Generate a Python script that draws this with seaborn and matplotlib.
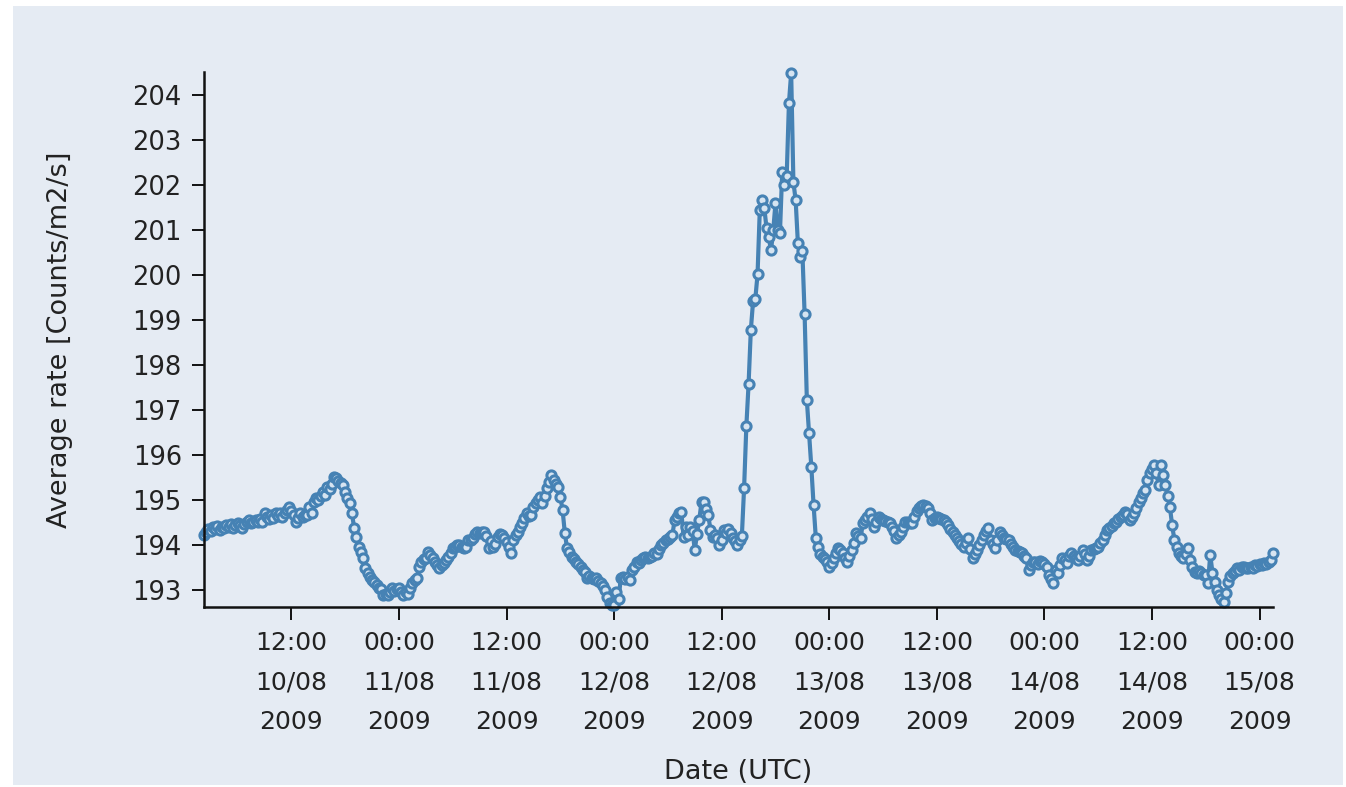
import matplotlib
matplotlib.use("Agg")
import matplotlib.pyplot as plt
from matplotlib.patches import Rectangle
import numpy as np
import pandas as pd
import seaborn as sns

# 15-minute average count rates, split by UTC day (first sample 10/08/2009 02:15)
rate_10aug = [
    194.22, 194.28, 194.35,
    194.32, 194.40, 194.36, 194.42,
    194.34, 194.40, 194.38, 194.44,
    194.40, 194.46, 194.38, 194.45,
    194.49, 194.44, 194.38, 194.46,
    194.50, 194.56, 194.48, 194.52,
    194.55, 194.50, 194.58, 194.50,
    194.71, 194.62, 194.58, 194.66,
    194.60, 194.70, 194.64, 194.70,
    194.62, 194.72, 194.78, 194.84,
    194.76, 194.66, 194.51, 194.60,
    194.70, 194.62, 194.66, 194.67,
    194.84, 194.72, 194.96, 195.04,
    195.00, 195.10, 195.18, 195.12,
    195.29, 195.24, 195.36, 195.51,
    195.49, 195.42, 195.38, 195.33,
    195.18, 195.05, 194.93, 194.71,
    194.38, 194.18, 193.96, 193.84,
    193.71, 193.49, 193.38, 193.29,
    193.22, 193.18, 193.10, 193.04,
    193.02, 192.89, 192.92, 192.89,
    192.95, 193.04, 192.98, 193.02,
]
rate_11aug = [
    193.04, 192.96, 192.89, 192.96,
    192.90, 193.04, 193.16, 193.22,
    193.27, 193.51, 193.62, 193.68,
    193.72, 193.84, 193.78, 193.70,
    193.62, 193.56, 193.49, 193.55,
    193.60, 193.66, 193.74, 193.82,
    193.93, 193.96, 194.00, 194.00,
    193.96, 193.93, 193.95, 194.11,
    194.11, 194.16, 194.24, 194.29,
    194.26, 194.29, 194.29, 194.20,
    193.93, 194.08, 193.96, 194.02,
    194.18, 194.24, 194.22, 194.16,
    194.07, 193.96, 193.82, 194.10,
    194.22, 194.29, 194.40, 194.49,
    194.60, 194.71, 194.64, 194.67,
    194.85, 194.93, 195.00, 195.07,
    194.93, 195.10, 195.27, 195.40,
    195.56, 195.44, 195.36, 195.29,
    195.07, 194.78, 194.27, 193.93,
    193.85, 193.73, 193.68, 193.62,
    193.58, 193.51, 193.45, 193.40,
    193.27, 193.30, 193.27, 193.25,
    193.27, 193.20, 193.16, 193.08,
    193.00, 192.84, 192.71, 192.66,
]
rate_12aug = [
    192.67, 192.96, 192.80, 193.27,
    193.29, 193.25, 193.29, 193.22,
    193.44, 193.50, 193.62, 193.60,
    193.66, 193.70, 193.73, 193.70,
    193.73, 193.76, 193.82, 193.80,
    193.90, 194.00, 194.04, 194.11,
    194.14, 194.18, 194.22, 194.56,
    194.62, 194.71, 194.73, 194.18,
    194.40, 194.22, 194.40, 194.30,
    193.89, 194.25, 194.56, 194.96,
    194.96, 194.80, 194.67, 194.33,
    194.18, 194.22, 194.16, 194.00,
    194.12, 194.33, 194.26, 194.36,
    194.27, 194.16, 194.08, 194.00,
    194.10, 194.20, 195.27, 196.64,
    197.58, 198.78, 199.42, 199.47,
    200.02, 201.45, 201.67, 201.50,
    201.05, 200.85, 200.55, 201.00,
    201.60, 201.00, 200.95, 202.30,
    202.00, 202.20, 203.82, 204.50,
    202.07, 201.67, 200.71, 200.40,
    200.53, 199.13, 197.22, 196.49,
    195.73, 194.89, 194.16, 193.95,
    193.80, 193.73, 193.68, 193.62,
]
rate_13aug = [
    193.51, 193.60, 193.72, 193.82,
    193.93, 193.88, 193.82, 193.70,
    193.62, 193.75, 193.89, 194.05,
    194.27, 194.20, 194.16, 194.49,
    194.55, 194.62, 194.71, 194.58,
    194.40, 194.52, 194.62, 194.58,
    194.56, 194.54, 194.52, 194.49,
    194.40, 194.30, 194.16, 194.22,
    194.29, 194.40, 194.51, 194.50,
    194.48, 194.49, 194.62, 194.75,
    194.82, 194.86, 194.89, 194.86,
    194.82, 194.70, 194.56, 194.60,
    194.62, 194.60, 194.58, 194.56,
    194.50, 194.44, 194.36, 194.29,
    194.22, 194.16, 194.08, 194.02,
    193.96, 194.05, 194.16, 193.90,
    193.71, 193.80, 193.89, 194.00,
    194.11, 194.22, 194.30, 194.38,
    194.11, 194.02, 193.93, 194.10,
    194.29, 194.22, 194.16, 194.14,
    194.11, 194.02, 193.95, 193.89,
    193.86, 193.84, 193.82, 193.76,
    193.71, 193.44, 193.55, 193.62,
    193.62, 193.58, 193.64, 193.62,
]
rate_14aug = [
    193.58, 193.51, 193.33, 193.25,
    193.16, 193.44, 193.38, 193.55,
    193.71, 193.66, 193.60, 193.75,
    193.82, 193.76, 193.70, 193.67,
    193.75, 193.89, 193.80, 193.67,
    193.75, 193.89, 193.92, 193.94,
    193.96, 194.04, 194.11, 194.22,
    194.33, 194.38, 194.42, 194.49,
    194.52, 194.58, 194.62, 194.66,
    194.73, 194.68, 194.56, 194.62,
    194.70, 194.82, 194.96, 195.05,
    195.15, 195.22, 195.44, 195.60,
    195.70, 195.78, 195.60, 195.33,
    195.78, 195.56, 195.33, 195.10,
    194.84, 194.44, 194.11, 193.95,
    193.82, 193.76, 193.71, 193.80,
    193.93, 193.67, 193.50, 193.40,
    193.38, 193.42, 193.38, 193.33,
    193.33, 193.16, 193.78, 193.38,
    193.18, 193.00, 192.89, 192.80,
    192.73, 192.93, 193.18, 193.30,
    193.38, 193.42, 193.49, 193.45,
    193.50, 193.51, 193.48, 193.49,
    193.52, 193.49, 193.56, 193.54,
]
rate_15aug = [
    193.58, 193.56, 193.60, 193.58,
    193.62, 193.66, 193.82,
]

rate = rate_10aug + rate_11aug + rate_12aug + rate_13aug + rate_14aug + rate_15aug
times = pd.date_range("2009-08-10 02:15", periods=len(rate), freq="15min")
df = pd.DataFrame({"time": times, "rate": rate})

y_ticks = list(range(193, 205))
x_ticks = pd.date_range("2009-08-10 12:00", "2009-08-15 00:00", freq="12h")

sns.set_theme(style="white")
plt.rcParams["font.family"] = ["DejaVu Sans"]

ink = "#222222"
line_col = "#4682b4"
panel_col = "#e5ebf3"

fig = plt.figure(figsize=(13.46, 7.87), dpi=100, facecolor="white")
panel = Rectangle((13 / 1346, 2 / 787), 1330 / 1346, 779 / 787,
                  transform=fig.transFigure, facecolor=panel_col,
                  edgecolor="none", zorder=-10)
fig.add_artist(panel)
ax = fig.add_axes([204 / 1346, 1 - 607 / 787, (1273 - 204) / 1346, (607 - 72) / 787])
ax.set_facecolor("none")
ax.set_zorder(1)

sns.lineplot(data=df, x="time", y="rate", ax=ax, color=line_col, linewidth=3.0,
             marker="o", markersize=6.6, markerfacecolor="#d6e4f1",
             markeredgecolor=line_col, markeredgewidth=2.2, clip_on=False)

ax.set_xlim(times[0], times[-1])
ax.set_ylim(192.62, 204.52)
ax.set_yticks(y_ticks)
ax.set_yticklabels([str(v) for v in y_ticks], fontsize=18.5, color=ink)
ax.set_xticks(x_ticks)
ax.set_xticklabels([t.strftime("%H:%M\n%d/%m\n%Y") for t in x_ticks],
                   fontsize=18, color=ink, linespacing=1.82)

for side in ("top", "right"):
    ax.spines[side].set_visible(False)
for side in ("left", "bottom"):
    ax.spines[side].set_color("#111111")
    ax.spines[side].set_linewidth(1.8)
ax.tick_params(axis="both", direction="out", length=9, width=1.4,
               color="#111111", pad=7, left=True, bottom=True)
ax.tick_params(axis="x", pad=8)

ax.set_ylabel("Average rate [Counts/m2/s]", fontsize=19.5, color=ink)
ax.set_xlabel("Date (UTC)", fontsize=19.5, color=ink)
ax.yaxis.set_label_coords(-0.123, 0.5)
ax.xaxis.set_label_coords(0.5, -0.284)
ax.grid(False)

fig.savefig("out.png", dpi=100, facecolor="white")
